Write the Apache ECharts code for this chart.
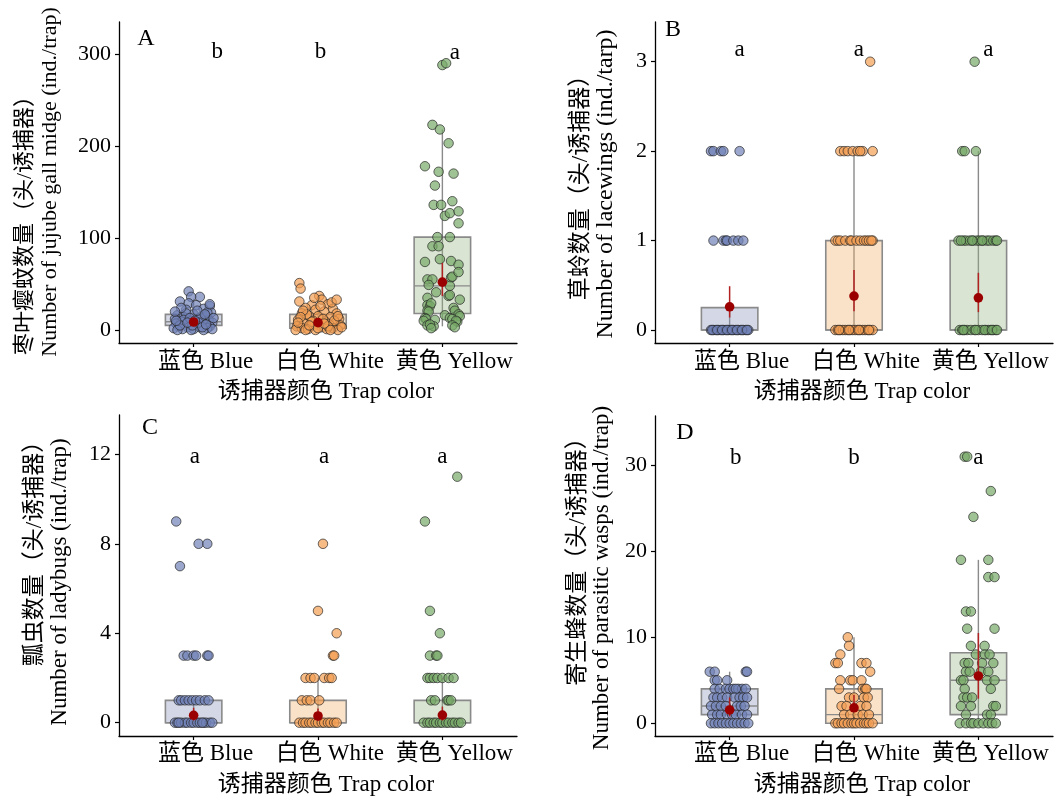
<!DOCTYPE html>
<html><head><meta charset="utf-8">
<script src="https://cdn.jsdelivr.net/npm/echarts@6/dist/echarts.min.js"></script>
<style>html,body{margin:0;padding:0;background:#fff}#c{width:1064px;height:800px}</style>
</head><body><div id="c"></div>
<script>
// ---------- DATA ----------
const categories = ['蓝色 Blue', '白色 White', '黄色 Yellow'];
const xName = '诱捕器颜色 Trap color';

// Panel A: jujube gall midge  [jitter offset, value]
const midgeBlue = [[-0.04,42],[0.05,36],[-0.11,31],[-0.02,36],[-0.04,29],[0.02,27],[0.13,26],[0.14,19],[-0.06,22],[0.08,23],[-0.13,16],[-0.08,14],[0.1,15],[0.0,17],[-0.15,12],[0.04,12],[0.12,11],[-0.1,9],[-0.03,10],[0.07,9],[0.15,8],[-0.14,7],[-0.07,6],[0.02,7],[0.09,6],[0.13,4],[-0.12,4],[-0.05,3],[0.05,3],[-0.16,2],[0.11,2],[-0.09,1],[0.0,1],[0.08,0],[-0.02,0],[0.15,1],[-0.13,0],[0.06,14],[-0.06,18],[0.03,21],[-0.1,24],[0.11,19],[0.16,13],[-0.01,5],[0.04,8],[-0.08,11],[0.09,17],[-0.15,20],[0.13,28],[-0.03,13],[-0.11,5],[0.07,3],[-0.05,8],[0.1,6],[-0.14,10],[0.01,10]];
const midgeWhite = [[-0.15,51],[-0.14,45],[-0.15,31],[0.01,37],[0.03,33],[-0.05,27],[0.08,28],[0.12,23],[-0.1,24],[-0.02,22],[0.05,20],[-0.13,18],[0.15,18],[-0.07,15],[0.0,15],[0.1,14],[0.17,12],[-0.16,11],[-0.04,10],[0.06,9],[0.14,8],[-0.11,7],[-0.01,6],[0.09,6],[0.18,5],[-0.17,4],[-0.06,4],[0.03,3],[0.12,2],[-0.13,2],[-0.08,1],[0.07,1],[0.16,0],[-0.18,0],[-0.02,0],[0.04,12],[-0.09,17],[0.11,30],[0.15,33],[-0.12,21],[0.02,26],[-0.03,35],[0.13,10],[-0.14,14],[0.08,4],[-0.05,9],[0.19,3],[0.0,2],[-0.1,0],[0.1,0],[-0.07,5],[0.05,7],[0.16,15],[-0.16,8]];
const midgeYellow = [[0.0,288],[0.03,290],[-0.08,223],[-0.02,218],[0.05,203],[-0.14,178],[-0.03,172],[0.09,170],[-0.06,157],[-0.07,136],[-0.01,136],[0.08,140],[0.02,124],[0.06,127],[0.13,129],[0.13,116],[-0.04,101],[0.06,101],[-0.08,91],[-0.03,91],[-0.14,74],[-0.02,77],[0.07,75],[0.13,71],[-0.12,55],[-0.08,55],[0.07,57],[0.08,58],[0.13,63],[-0.11,49],[0.06,48],[-0.05,41],[0.05,37],[0.06,38],[-0.12,35],[0.14,33],[-0.12,27],[-0.1,26],[-0.09,29],[-0.12,21],[-0.11,20],[0.09,24],[0.1,21],[0.13,17],[0.14,15],[0.02,16],[-0.14,13],[-0.13,12],[-0.15,10],[0.06,13],[0.08,12],[-0.06,11],[0.12,9],[0.11,10],[-0.12,5],[-0.07,4],[-0.1,6],[0.08,5],[0.1,3],[-0.09,2]];
const midgeBox = [[0,5,9,17,34],[0,2,7,17,38],[4,18,48,101,218]];     // lowW, Q1, median, Q3, highW
const midgeMean = [[8.7,7,10.5],[8,6.5,9.5],[52,37,73]];              // mean, low, high
const midgeLetters = [[1.19,302,'b'],[2.02,302,'b'],[3.1,301,'a']];

// Panel B: lacewings
const lacewingBlue = [[-0.15,2],[-0.13,2],[-0.07,2],[-0.05,2],[0.08,2],[-0.13,1],[-0.05,1],[-0.03,1],[-0.02,1],[0.03,1],[0.07,1],[0.11,1],[-0.15,0],[-0.13,0],[-0.11,0],[-0.09,0],[-0.07,0],[-0.05,0],[-0.03,0],[-0.01,0],[0.01,0],[0.03,0],[0.05,0],[0.07,0],[0.09,0],[0.11,0],[0.13,0],[0.15,0],[-0.14,0],[-0.1,0],[-0.06,0],[-0.02,0],[0.02,0],[0.06,0],[0.1,0],[0.14,0]];
const lacewingWhite = [[0.13,3],[-0.11,2],[-0.08,2],[-0.05,2],[-0.01,2],[0.03,2],[0.07,2],[0.15,2],[0.05,2],[-0.15,1],[-0.13,1],[-0.11,1],[-0.07,1],[-0.03,1],[-0.02,1],[0.02,1],[0.05,1],[0.08,1],[0.1,1],[0.12,1],[0.15,1],[0.14,1],[-0.15,0],[-0.13,0],[-0.11,0],[-0.09,0],[-0.07,0],[-0.05,0],[-0.03,0],[-0.01,0],[0.01,0],[0.03,0],[0.05,0],[0.07,0],[0.09,0],[0.11,0],[0.13,0],[0.15,0],[-0.12,0],[-0.04,0],[0.04,0],[0.12,0]];
const lacewingYellow = [[-0.03,3],[-0.13,2],[-0.11,2],[-0.02,2],[-0.16,1],[-0.12,1],[-0.1,1],[-0.07,1],[-0.04,1],[-0.01,1],[0.01,1],[0.04,1],[0.07,1],[0.09,1],[0.12,1],[0.14,1],[0.15,1],[-0.14,1],[0.03,1],[-0.05,1],[-0.15,0],[-0.13,0],[-0.11,0],[-0.09,0],[-0.06,0],[-0.03,0],[0,0],[0.03,0],[0.06,0],[0.08,0],[0.1,0],[0.12,0],[0.14,0],[-0.12,0],[-0.02,0],[0.05,0],[0.11,0],[0.15,0]];
const lacewingBox = [[0,0,0,0.25,0.25],[0,0,0,1,2],[0,0,0,1,2]];
const lacewingMean = [[0.26,0.14,0.49],[0.38,0.21,0.67],[0.36,0.2,0.64]];
const lacewingLetters = [[1.08,3.13,'a'],[2.04,3.13,'a'],[3.08,3.13,'a']];

// Panel C: ladybugs
const ladybugBlue = [[-0.14,9],[0.04,8],[0.11,8],[-0.11,7],[-0.08,3],[-0.05,3],[0.0,3],[0.02,3],[0.11,3],[0.12,3],[-0.12,1],[-0.1,1],[-0.07,1],[-0.04,1],[-0.01,1],[0.02,1],[0.05,1],[0.09,1],[0.12,1],[-0.15,0],[-0.13,0],[-0.1,0],[-0.07,0],[-0.05,0],[-0.02,0],[0,0],[0.03,0],[0.05,0],[0.08,0],[0.1,0],[0.13,0],[0.15,0],[-0.12,0],[0.07,0]];
const ladybugWhite = [[0.04,8],[0.0,5],[0.15,4],[0.12,3],[0.13,3],[-0.1,2],[-0.06,2],[-0.03,2],[0.05,2],[0.09,2],[0.11,2],[-0.13,1],[-0.09,1],[-0.06,1],[0.01,1],[-0.15,0],[-0.12,0],[-0.1,0],[-0.07,0],[-0.05,0],[-0.02,0],[0,0],[0.03,0],[0.05,0],[0.08,0],[0.1,0],[0.13,0],[0.15,0]];
const ladybugYellow = [[0.12,11],[-0.14,9],[-0.1,5],[-0.02,4],[-0.1,3],[-0.05,3],[-0.04,3],[-0.12,2],[-0.1,2],[-0.07,2],[-0.04,2],[0.0,2],[0.05,2],[0.09,2],[-0.09,1],[-0.06,1],[0.04,1],[0.05,1],[0.07,1],[-0.15,0],[-0.12,0],[-0.1,0],[-0.07,0],[-0.05,0],[-0.02,0],[0,0],[0.03,0],[0.05,0],[0.08,0],[0.1,0],[0.13,0],[0.15,0]];
const ladybugBox = [[0,0,0,1,1],[0,0,0,1,2],[0,0,0,1,2]];
const ladybugMean = [[0.33,0.1,0.67],[0.3,0.1,0.64],[0.34,0.1,0.72]];
const ladybugLetters = [[1.01,11.9,'a'],[2.05,11.9,'a'],[3.0,11.9,'a']];

// Panel D: parasitic wasps
const waspBlue = [[-0.16,6],[-0.12,6],[0.13,6],[0.14,6],[-0.12,5],[-0.1,5],[-0.02,5],[-0.12,4],[-0.08,4],[-0.03,4],[0.0,4],[0.03,4],[0.07,4],[0.1,4],[0.13,4],[0.05,4],[-0.13,3],[-0.1,3],[-0.06,3],[-0.02,3],[0.04,3],[0.08,3],[0.11,3],[0.14,3],[-0.15,2],[-0.11,2],[-0.07,2],[-0.03,2],[0.06,2],[0.09,2],[0.12,2],[-0.14,1],[-0.1,1],[-0.07,1],[-0.02,1],[0.02,1],[0.05,1],[0.1,1],[0.14,1],[-0.15,0],[-0.12,0],[-0.09,0],[-0.06,0],[-0.03,0],[0,0],[0.03,0],[0.06,0],[0.09,0],[0.12,0],[0.15,0]];
const waspWhite = [[-0.05,10],[-0.04,9],[-0.11,8],[-0.15,7],[-0.13,7],[0.06,7],[0.1,7],[0.13,6],[-0.11,5],[-0.03,5],[-0.01,5],[0.06,5],[-0.12,4],[0.07,4],[0.09,4],[0.1,4],[-0.04,3],[0.0,3],[0.08,3],[0.11,3],[-0.1,2],[-0.06,2],[0.05,2],[0.1,2],[-0.08,1],[-0.03,1],[0.03,1],[0.07,1],[0.12,1],[-0.15,0],[-0.13,0],[-0.1,0],[-0.08,0],[-0.05,0],[-0.02,0],[0,0],[0.02,0],[0.05,0],[0.08,0],[0.1,0],[0.12,0],[0.15,0]];
const waspYellow = [[-0.11,31],[-0.09,31],[0.1,27],[-0.04,24],[-0.14,19],[0.08,19],[0.08,17],[0.13,17],[-0.1,13],[-0.06,13],[-0.09,11],[0.13,11],[-0.06,9],[0.05,9],[-0.02,8],[0.05,8],[0.09,8],[-0.11,7],[-0.08,7],[0.03,7],[0.12,7],[-0.1,6],[-0.07,6],[0.02,6],[0.08,6],[-0.14,5],[-0.12,5],[0.07,5],[0.13,5],[-0.11,4],[0.1,4],[-0.12,3],[-0.09,3],[-0.05,3],[-0.14,2],[-0.06,2],[0.12,2],[0.14,2],[-0.1,1],[0.07,1],[0.1,1],[-0.15,0],[-0.1,0],[-0.06,0],[-0.04,0],[0,0],[0.04,0],[0.08,0],[0.11,0],[0.14,0]];
const waspBox = [[0,1,2,4,6],[0,0,1,4,10],[0,1,5,8.2,19]];
const waspMean = [[1.55,0.8,3.0],[1.8,1.35,3.3],[5.5,2.86,10.5]];
const waspLetters = [[1.05,30.9,'b'],[2.0,30.9,'b'],[3.0,30.8,'a']];

// y-axis ticks / labels
const yTicksA = [0,100,200,300], yTicksB = [0,1,2,3], yTicksC = [0,4,8,12], yTicksD = [0,10,20,30];
const panelTags = ['A','B','C','D'];
const yNamesCN = ['枣叶瘿蚊数量（头/诱捕器）','草蛉数量（头/诱捕器）','瓢虫数量（头/诱捕器）','寄生蜂数量（头/诱捕器）'];
const yNamesEN = ['Number of jujube gall midge (ind./trap)','Number of lacewings (ind./tarp)','Number of ladybugs (ind./trap)','Number of parasitic wasps (ind./trap)'];

// ---------- STYLE / LAYOUT ----------
const FONT = '"Liberation Serif","Times New Roman","Noto Sans CJK SC",serif';
const FS_TICK = 22, FS_LAB = 23;
const nameSizeCN = [22, 23, 23, 23];
const nameSizeEN = [22, 24, 23, 23];
const pointFill = ['rgba(112,130,184,0.88)','rgba(243,158,82,0.88)','rgba(120,170,104,0.88)'];
const boxFill = ['rgba(132,144,184,0.35)','rgba(241,172,98,0.35)','rgba(146,181,126,0.35)'];
const grids = [
  {left:119, top:22, width:398, height:321},
  {left:655, top:22, width:398, height:321},
  {left:119, top:415, width:398, height:321},
  {left:655, top:416, width:398, height:320}
];
const yRanges = [[-14.13,334.8],[-0.145,3.444],[-0.595,13.76],[-1.48,35.73]];
const panels = [
  {groups:[midgeBlue,midgeWhite,midgeYellow], box:midgeBox, mean:midgeMean, letters:midgeLetters, ticks:yTicksA},
  {groups:[lacewingBlue,lacewingWhite,lacewingYellow], box:lacewingBox, mean:lacewingMean, letters:lacewingLetters, ticks:yTicksB},
  {groups:[ladybugBlue,ladybugWhite,ladybugYellow], box:ladybugBox, mean:ladybugMean, letters:ladybugLetters, ticks:yTicksC},
  {groups:[waspBlue,waspWhite,waspYellow], box:waspBox, mean:waspMean, letters:waspLetters, ticks:yTicksD}
];
const tagPos = [[146,39],[673,30],[150,428],[685,433]];
const cnPos = [[25,220],[581,182],[35,548],[578,556]];
const enPos = [[50,182],[606,184],[60,582],[602,578]];

const xAxes = [], yAxes = [], series = [], graphics = [];
panels.forEach((p, i) => {
  xAxes.push({
    type:'value', gridIndex:i, min:0.4, max:3.6,
    axisLine:{show:true, onZero:false, lineStyle:{color:'#000', width:1.3}},
    axisTick:{show:true, customValues:[1,2,3], length:4, lineStyle:{color:'#000', width:1.2}},
    axisLabel:{customValues:[1,2,3], formatter:v => categories[Math.round(v)-1], fontSize:FS_LAB, fontFamily:FONT, color:'#000', margin: i < 2 ? 7 : 6, padding:[0,0,0,24]},
    splitLine:{show:false},
    name:xName, nameLocation:'middle', nameGap:37,
    nameTextStyle:{fontSize:FS_LAB, fontFamily:FONT, color:'#000', padding:[0,0,0,16]}
  });
  yAxes.push({
    type:'value', gridIndex:i, min:yRanges[i][0], max:yRanges[i][1],
    axisLine:{show:true, onZero:false, lineStyle:{color:'#000', width:1.3}},
    axisTick:{show:true, customValues:p.ticks, length:4, lineStyle:{color:'#000', width:1.2}},
    axisLabel:{customValues:p.ticks, fontSize:FS_TICK, fontFamily:FONT, color:'#000', margin:8},
    splitLine:{show:false}
  });
  // boxes
  series.push({
    type:'custom', xAxisIndex:i, yAxisIndex:i, z:1, silent:true,
    encode:{x:0, y:[1,2,3,4,5]},
    data:p.box.map((b, k) => [k+1, ...b]),
    renderItem:(params, api) => {
      const x = api.value(0);
      const lo = api.coord([x, api.value(1)]), q1 = api.coord([x, api.value(2)]),
            md = api.coord([x, api.value(3)]), q3 = api.coord([x, api.value(4)]),
            hi = api.coord([x, api.value(5)]);
      const hw = api.size([0.227, 0])[0];
      const st = {stroke:'#8a8a8a', lineWidth:1.4};
      return {type:'group', children:[
        {type:'line', shape:{x1:lo[0], y1:lo[1], x2:hi[0], y2:hi[1]}, style:st},
        {type:'rect', shape:{x:md[0]-hw, y:q3[1], width:2*hw, height:Math.max(q1[1]-q3[1],0.5)},
          style:{fill:boxFill[params.dataIndex], stroke:'#8a8a8a', lineWidth:1.6}},
        {type:'line', shape:{x1:md[0]-hw, y1:md[1], x2:md[0]+hw, y2:md[1]}, style:st}
      ]};
    }
  });
  // jittered points
  p.groups.forEach((g, k) => {
    series.push({
      type:'scatter', xAxisIndex:i, yAxisIndex:i, z:2, silent:true,
      symbol:'circle', symbolSize:9.5,
      itemStyle:{color:pointFill[k], borderColor:'rgba(35,35,35,0.85)', borderWidth:1},
      data:g.map(d => [k+1+d[0], d[1]])
    });
  });
  // mean ± error
  series.push({
    type:'custom', xAxisIndex:i, yAxisIndex:i, z:3, silent:true,
    encode:{x:0, y:[1,2,3]},
    data:p.mean.map((m, k) => [k+1, ...m]),
    renderItem:(params, api) => {
      const x = api.value(0);
      const m = api.coord([x, api.value(1)]), l = api.coord([x, api.value(2)]), h = api.coord([x, api.value(3)]);
      return {type:'group', children:[
        {type:'line', shape:{x1:l[0], y1:l[1], x2:h[0], y2:h[1]}, style:{stroke:'#b22222', lineWidth:1.5}},
        {type:'circle', shape:{cx:m[0], cy:m[1], r:4.8}, style:{fill:'#9b0000'}}
      ]};
    }
  });
  // significance letters
  series.push({
    type:'custom', xAxisIndex:i, yAxisIndex:i, z:4, silent:true,
    encode:{x:0, y:1},
    data:p.letters.map(d => [d[0], d[1]]),
    renderItem:(params, api) => {
      const c = api.coord([api.value(0), api.value(1)]);
      return {type:'text', x:c[0], y:c[1], style:{text:p.letters[params.dataIndex][2], font:'23px '+FONT, fill:'#000', align:'center', verticalAlign:'middle', textAlign:'center', textVerticalAlign:'middle'}};
    }
  });
  graphics.push({type:'text', x:tagPos[i][0], y:tagPos[i][1], style:{text:panelTags[i], font:'24px '+FONT, fill:'#000', align:'center', verticalAlign:'middle', textAlign:'center', textVerticalAlign:'middle'}});
  graphics.push({type:'text', x:cnPos[i][0], y:cnPos[i][1], rotation:Math.PI/2, style:{text:yNamesCN[i], font:nameSizeCN[i]+'px '+FONT, fill:'#000', align:'center', verticalAlign:'middle', textAlign:'center', textVerticalAlign:'middle'}});
  graphics.push({type:'text', x:enPos[i][0], y:enPos[i][1], rotation:Math.PI/2, style:{text:yNamesEN[i], font:nameSizeEN[i]+'px '+FONT, fill:'#000', align:'center', verticalAlign:'middle', textAlign:'center', textVerticalAlign:'middle'}});
});

const chart = echarts.init(document.getElementById('c'), null, {renderer:'canvas'});
chart.setOption({
  animation:false,
  backgroundColor:'#fff',
  grid:grids,
  xAxis:xAxes,
  yAxis:yAxes,
  series:series,
  graphic:graphics
});
</script></body></html>
